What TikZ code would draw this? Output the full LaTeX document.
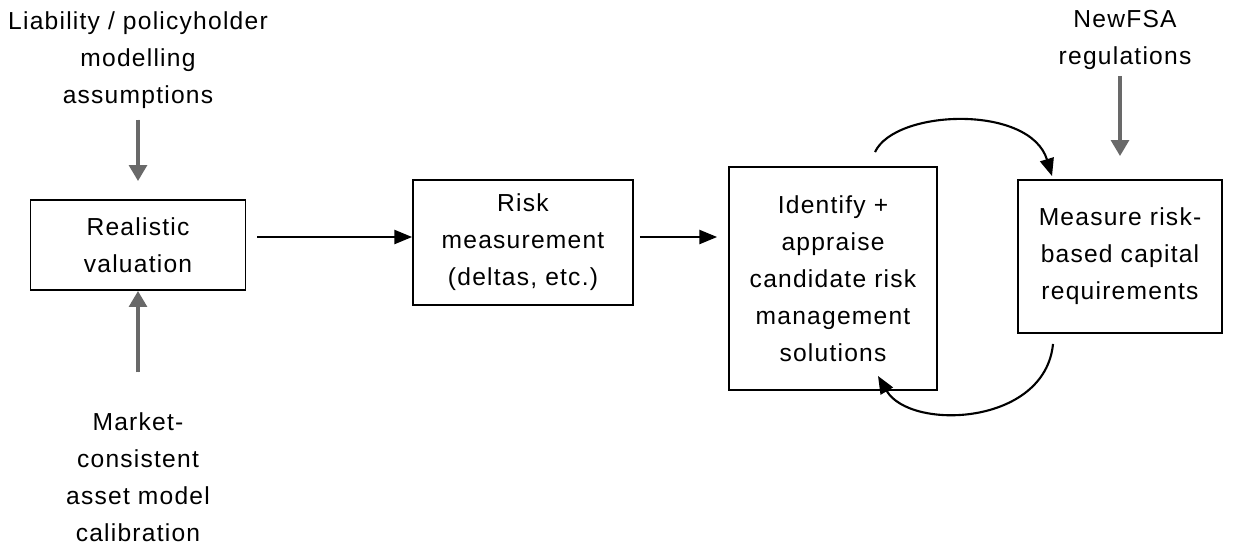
\documentclass[tikz,border=0pt]{standalone}
\usepackage{fontspec}
\setmainfont{Liberation Sans}[LetterSpace=5]
\usepackage{tikz}
\usetikzlibrary{arrows.meta}

\definecolor{feedgray}{RGB}{105,105,105}

\begin{document}
\begin{tikzpicture}[
    x=0.02cm, y=-0.02cm,
    every node/.style={font=\fontsize{14}{21}\selectfont, align=center},
    box node/.style={draw, line width=1.1pt, inner sep=0pt},
    flow/.style={-{Triangle[length=10pt,width=8pt]}, line width=1pt},
    feed/.style={-{Triangle[length=9pt,width=10pt]}, line width=2pt, draw=feedgray, fill=feedgray},
    loop arrow/.style={-{Triangle[length=10pt,width=8pt]}, line width=1.2pt}
]
    \useasboundingbox (0,0) rectangle (1244,549);

    \node[box node, minimum width=4.3cm, minimum height=1.8cm] (val) at (138,245) {Realistic\\valuation};
    \node[box node, minimum width=4.4cm, minimum height=2.5cm] (risk) at (523,242.5) {Risk\\measurement\\(deltas, etc.)};
    \node[box node, minimum width=4.16cm, minimum height=4.46cm] (ident) at (833,278.5) {Identify +\\appraise\\candidate risk\\management\\solutions};
    \node[box node, minimum width=4.08cm, minimum height=3.06cm] (capital) at (1120,256.5) {Measure risk-\\based capital\\requirements};

    \node (liab) at (138,60) {Liability / policyholder\\modelling\\assumptions};
    \node (mkt) at (138,477) {Market-\\consistent\\asset model\\calibration};
    \node (fsa) at (1125,40) {NewFSA\\regulations};

    \coordinate (row) at (0,237);
    \draw[flow, shorten <=0.22cm] (val.east |- row) -- (risk.west |- row);
    \draw[flow, shorten <=0.12cm, shorten >=0.22cm] (risk.east |- row) -- (ident.west |- row);

    \draw[feed, shorten <=0.1cm, shorten >=0.36cm] (liab.south) -- (val.north);
    \draw[feed, shorten <=0.68cm] (mkt.north) -- (val.south);
    \draw[feed, shorten >=0.46cm] (fsa.south -| capital) -- (capital.north);

    % feedback loop between the two right boxes
    \draw[loop arrow] ([shift={(42,-14)}]ident.north) .. controls +(20,-43) and +(-22,-72) .. ([shift={(-68,-3)}]capital.north);
    \draw[loop arrow] ([shift={(-67,10)}]capital.south) .. controls +(-8,82) and +(32,55) .. ([shift={(45,-15)}]ident.south);
\end{tikzpicture}
\end{document}
